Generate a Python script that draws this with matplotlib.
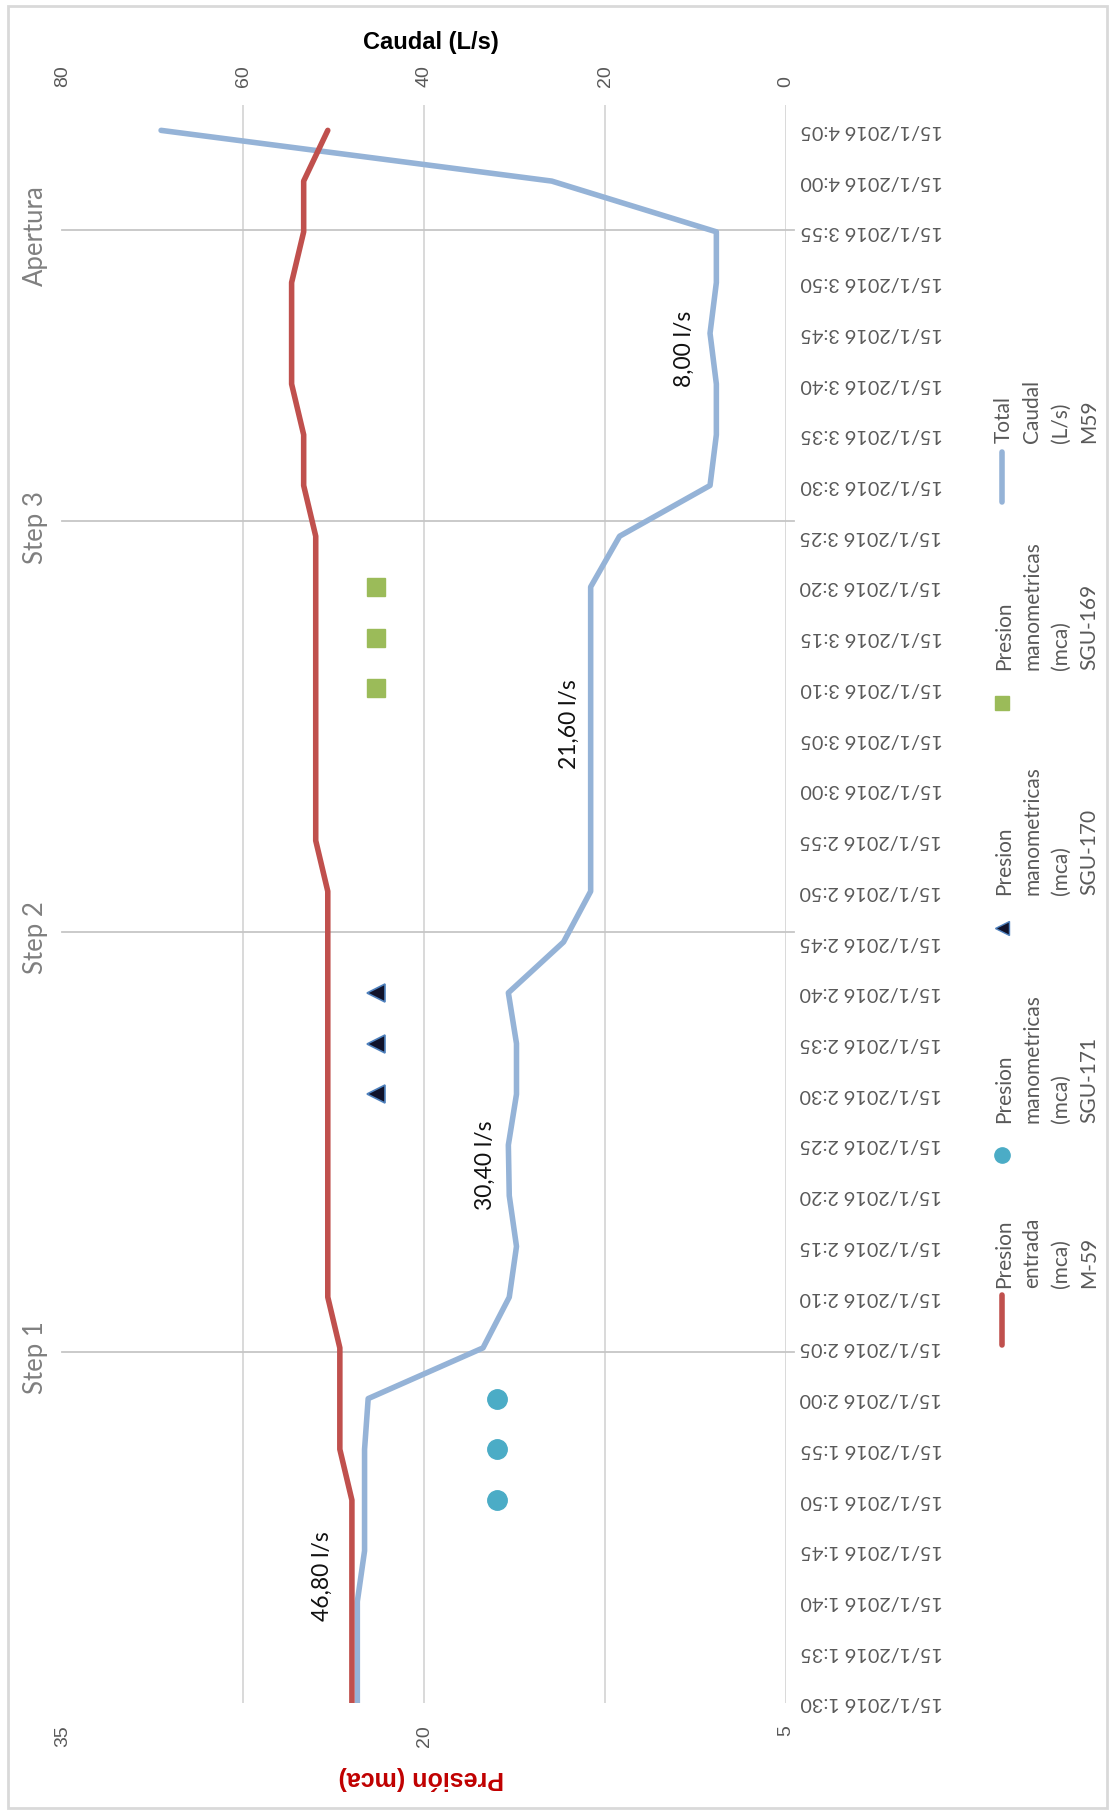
import matplotlib
matplotlib.use("Agg")
import matplotlib.pyplot as plt
from matplotlib.lines import Line2D
from matplotlib.patches import Rectangle

# ---- data -------------------------------------------------------------
times = ["1:30", "1:35", "1:40", "1:45", "1:50", "1:55", "2:00", "2:05",
         "2:10", "2:15", "2:20", "2:25", "2:30", "2:35", "2:40", "2:45",
         "2:50", "2:55", "3:00", "3:05", "3:10", "3:15", "3:20", "3:25",
         "3:30", "3:35", "3:40", "3:45", "3:50", "3:55", "4:00", "4:05"]
time_labels = ["15/1/2016 " + t for t in times]

caudal_m59 = [47.4, 47.4, 47.4, 46.6, 46.6, 46.6, 46.2, 33.5,
              30.6, 29.8, 30.6, 30.7, 29.8, 29.8, 30.7, 24.6,
              21.6, 21.6, 21.6, 21.6, 21.6, 21.6, 21.6, 18.4,
              8.4, 7.7, 7.7, 8.4, 7.7, 7.7, 25.9, 69.1]

presion_m59 = [23.0, 23.0, 23.0, 23.0, 23.0, 23.5, 23.5, 23.5,
               24.0, 24.0, 24.0, 24.0, 24.0, 24.0, 24.0, 24.0,
               24.0, 24.5, 24.5, 24.5, 24.5, 24.5, 24.5, 24.5,
               25.0, 25.0, 25.5, 25.5, 25.5, 25.0, 25.0, 24.0]

sgu171_times = ["1:50", "1:55", "2:00"]
sgu171_vals = [17.0, 17.0, 17.0]
sgu170_times = ["2:30", "2:35", "2:40"]
sgu170_vals = [22.0, 22.0, 22.0]
sgu169_times = ["3:10", "3:15", "3:20"]
sgu169_vals = [22.0, 22.0, 22.0]

step_names = ["Step 1", "Step 2", "Step 3", "Apertura"]
step_pos = [6.92, 15.2, 23.3, 29.04]

avg_labels = ["46,80 l/s", "30,40 l/s", "21,60 l/s", "8,00 l/s"]
avg_label_pos = [(51.3, 2.5), (33.2, 10.6), (24.0, 19.3), (11.2, 26.7)]

caudal_ticks = [80, 60, 40, 20, 0]
presion_ticks = [35, 20, 5]

# ---- style ------------------------------------------------------------
W, H = 1113, 1814
BLUE = "#95b3d7"
RED = "#c0504d"
TEAL = "#4bacc6"
GREEN = "#9bbb59"
GRID = "#d9d9d9"
TXT = "#595959"
FONT = ["Lato", "DejaVu Sans"]
plt.rcParams["font.family"] = FONT

fig = plt.figure(figsize=(W / 100, H / 100), dpi=100)


def fx(px):
    return px / W


def fy(py):
    return 1 - py / H


ax = fig.add_axes([fx(62.5), fy(1703), fx(786) - fx(62.5), fy(105) - fy(1703)])
ax2 = ax.twiny()

idx = list(range(len(times)))

# primary axis: caudal (top, reversed)
ax.set_xlim(80, 0)
ax.set_ylim(0, 31.5)
ax.xaxis.tick_top()
ax.set_xticks(caudal_ticks)
ax.set_xticklabels([str(v) for v in caudal_ticks], rotation=90,
                   fontsize=14, color=TXT, family=["Liberation Sans"])
ax.tick_params(axis="x", length=0, pad=13)
ax.grid(axis="x", color=GRID, lw=1.4)
ax.grid(axis="y", visible=False)
ax.set_axisbelow(True)

ax.yaxis.tick_right()
ax.set_yticks(idx)
ax.set_yticklabels(time_labels, rotation=180, fontsize=14.2, color=TXT)
for lab in ax.get_yticklabels():
    lab.set_horizontalalignment("left")
    lab.set_verticalalignment("center")
ax.tick_params(axis="y", length=0, pad=10)

for s in ax.spines.values():
    s.set_visible(False)

# secondary axis: presion (bottom, reversed)
ax2.set_xlim(35, 5)
ax2.xaxis.tick_bottom()
ax2.set_xticks(presion_ticks)
ax2.set_xticklabels([str(v) for v in presion_ticks], rotation=90,
                    fontsize=14, color=TXT, family=["Liberation Sans"])
ax2.tick_params(axis="x", length=0, pad=16)
for s in ax2.spines.values():
    s.set_visible(False)

# step separators and labels
for name, pos in zip(step_names, step_pos):
    ax.plot([80, -0.9], [pos, pos], color="#c6c6c6", lw=1.3, zorder=1,
            clip_on=False)
    ax.text(-0.038, pos - 0.12, name, transform=ax.get_yaxis_transform(),
            rotation=90, ha="center", va="center", fontsize=18.5,
            color="#808080")

# series
ax.plot(caudal_m59, idx, color=BLUE, lw=4.0, solid_joinstyle="round",
        solid_capstyle="round", zorder=3)
ax2.plot(presion_m59, idx, color=RED, lw=4.0, solid_joinstyle="round",
         solid_capstyle="round", zorder=3)

ax2.plot(sgu171_vals, [times.index(t) for t in sgu171_times], "o",
         ms=14, color=TEAL, mec=TEAL, zorder=4)
ax2.plot(sgu170_vals, [times.index(t) for t in sgu170_times], "<",
         ms=13, mfc="#10122a", mec="#4f81bd", mew=1.2, zorder=4)
ax2.plot(sgu169_vals, [times.index(t) for t in sgu169_times], "s",
         ms=13, color=GREEN, mec=GREEN, zorder=4)

for txt, (xv, yv) in zip(avg_labels, avg_label_pos):
    ax.text(xv, yv, txt, rotation=90, ha="center", va="center",
            fontsize=16.5, color="#111111", zorder=5)

# axis titles
fig.text(fx(431), fy(42), "Caudal (L/s)", ha="center", va="center",
         fontsize=17, fontweight="bold", color="#000000",
         family=["Liberation Sans Narrow", "Liberation Sans"])
fig.text(fx(421), fy(1778), "Presión (mca)", ha="center", va="center",
         rotation=180, fontsize=18, fontweight="bold", color="#c00000",
         family=["Liberation Sans Narrow", "Liberation Sans"])

# legend (vertical entries)
LKX = 1002
fig.add_artist(Line2D([fx(LKX), fx(LKX)], [fy(452), fy(502)], color=BLUE,
                      lw=4.0, solid_capstyle="round"))
fig.add_artist(Line2D([fx(LKX), fx(LKX)], [fy(1295), fy(1345)], color=RED,
                      lw=4.0, solid_capstyle="round"))
fig.add_artist(Line2D([fx(LKX)], [fy(703)], marker="s", ms=10, color=GREEN,
                      mec=GREEN, ls="none"))
fig.add_artist(Line2D([fx(LKX)], [fy(928)], marker="<", ms=10,
                      mfc="#10122a", mec="#4f81bd", mew=1.0, ls="none"))
fig.add_artist(Line2D([fx(LKX)], [fy(1155)], marker="o", ms=11, color=TEAL,
                      mec=TEAL, ls="none"))

legend_entries = [
    ("Total\nCaudal\n(L/s)\nM59", 443),
    ("Presion\nmanometricas\n(mca)\nSGU-169", 670),
    ("Presion\nmanometricas\n(mca)\nSGU-170", 895),
    ("Presion\nmanometricas\n(mca)\nSGU-171", 1123),
    ("Presion\nentrada\n(mca)\nM-59", 1288),
]
for txt, ybot in legend_entries:
    fig.text(fx(LKX - 8), fy(ybot), txt, rotation=90, ha="left",
             va="bottom", multialignment="left", fontsize=15,
             color=TXT, linespacing=1.52)

# chart frame
fig.add_artist(Rectangle((fx(8), fy(1808)), fx(1107) - fx(8),
                         fy(6) - fy(1808), fill=False, ec="#d9d9d9", lw=2.0))

fig.savefig("out.png", dpi=100)
